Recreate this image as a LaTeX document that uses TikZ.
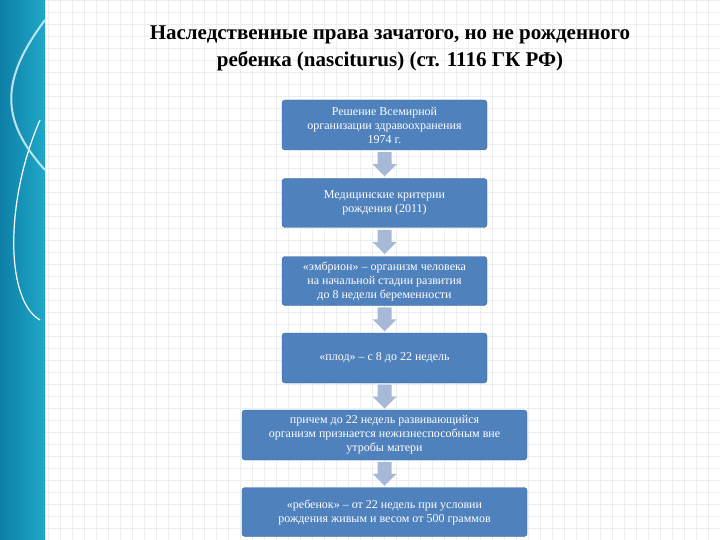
\documentclass[tikz,border=0pt]{standalone}
\usepackage{fontspec}
\setmainfont{Liberation Serif}
\usetikzlibrary{calc}
\definecolor{boxblue}{HTML}{4F81BD}
\definecolor{arr}{HTML}{A7B9D6}
\definecolor{teal1}{HTML}{1FA8C9}
\definecolor{teal2}{HTML}{0E7FA6}
\definecolor{gridc}{HTML}{ECEFF0}
\begin{document}
\begin{tikzpicture}[x=1pt,y=-1pt,
 box/.style={draw=boxblue!80!black,fill=boxblue,rounded corners=3pt,text=white,align=center,font=\fontsize{12}{14}\selectfont,inner sep=2pt}]
\useasboundingbox (0,0) rectangle (720,540);
\fill[white] (0,0) rectangle (720,540);
\draw[gridc,step=12pt] (45,0) grid (720,540);
\shade[left color=teal2,right color=teal1] (0,0) rectangle (45,540);
\draw[white,line width=1.2pt] (40,120) .. controls (5,200) and (5,300) .. (40,320);
\draw[white!70!teal1,line width=2pt] (45,20) .. controls (0,80) and (0,120) .. (45,170);
\node (t) at (390,48) [font=\bfseries\fontsize{21}{27}\selectfont,align=center] {Наследственные права зачатого, но не рожденного\\ребенка (nasciturus) (ст. 1116 ГК РФ)};
\node[box,minimum width=205pt,minimum height=50pt] (b1) at (384.5,125) {Решение Всемирной\\организации здравоохранения\\1974 г.};
\node[box,minimum width=205pt,minimum height=49pt] (b2) at (384.5,203) {Медицинские критерии\\рождения (2011)};
\node[box,minimum width=205pt,minimum height=49pt] (b3) at (384.5,281) {«эмбрион» – организм человека\\на начальной стадии развития\\до 8 недели беременности};
\node[box,minimum width=205pt,minimum height=50pt] (b4) at (384.5,358) {«плод» – с 8 до 22 недель};
\node[box,minimum width=285pt,minimum height=50pt] (b5) at (384.5,435) {причем до 22 недель развивающийся\\организм признается нежизнеспособным вне\\утробы матери};
\node[box,minimum width=285pt,minimum height=49pt] (b6) at (384.5,512) {«ребенок» – от 22 недель при условии\\рождения живым и весом от 500 граммов};
\foreach \a/\b in {b1/b2,b2/b3,b3/b4,b4/b5,b5/b6}{
  \coordinate (m) at ($(\a.south)!0.5!(\b.north)$);
  \fill[arr] ($(m)+(-7,-12)$) -- ($(m)+(7,-12)$) -- ($(m)+(7,0)$) -- ($(m)+(12,0)$) -- ($(m)+(0,12)$) -- ($(m)+(-12,0)$) -- ($(m)+(-7,0)$) -- cycle;}
\end{tikzpicture}
\end{document}
